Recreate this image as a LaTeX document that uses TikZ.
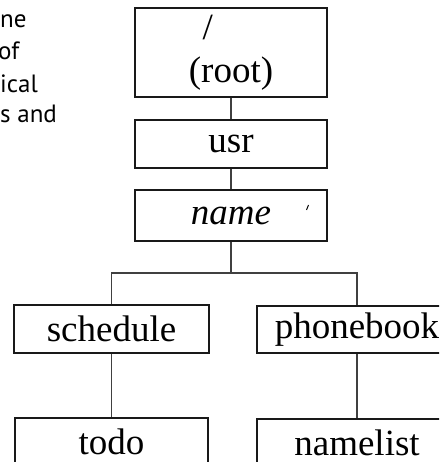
\documentclass[tikz,border=0pt]{standalone}
\usepackage{fontspec}
\setmainfont{Liberation Serif}
\newfontfamily\leftsans{PT Sans}
\begin{document}
\begin{tikzpicture}[x=1pt,y=-1pt,
  dirbox/.style={draw=black!90, line width=1.5pt, rectangle, inner sep=0pt,
    minimum height=48pt, font=\fontsize{37}{43}\selectfont, align=center},
  link/.style={draw=black!75, line width=1.1pt},
  para/.style={anchor=base west, inner sep=0pt, font=\leftsans\fontsize{25}{31}\selectfont, text=black}]
\useasboundingbox (0,0) rectangle (439,462);
\clip (0,0) rectangle (439,462);
% paragraph fragments at the left
\node[para] (p1) at (0,28) {ne};
\node[para] (p2) at (-2,60) {of};
\node[para] (p3) at (0,93) {ical};
\node[para] (p4) at (0,123) {s and};
% directory boxes
\node[dirbox, minimum width=192pt, minimum height=89pt] (root) at (231,52.5)
  {\llap{/\kern18pt}\\(root)};
\node[dirbox, minimum width=192pt] (usr) at (231,144) {usr};
\node[dirbox, minimum width=192pt, minimum height=51pt] (name) at (231,215.5) {\itshape name};
\node[dirbox, minimum width=195pt] (schedule) at (111.5,329) {schedule};
\node[dirbox, minimum width=200pt, minimum height=47pt] (phonebook) at (357,329.5) {phonebook};
\node[dirbox, minimum width=193pt] (todo) at (111.5,442) {todo};
\node[dirbox, minimum width=200pt] (namelist) at (357,443) {namelist};
% small mark in the name box
\draw[line width=1pt] (306.5,210) -- (308.5,205);
% connectors
\coordinate (split) at (231,273);
\draw[link] (root.south) -- (usr.north);
\draw[link] (usr.south) -- (name.north);
\draw[link] (name.south) -- (split);
\draw[link] (schedule.north) |- (split) -| (phonebook.north);
\draw[link] (schedule.south) -- (todo.north);
\draw[link] (phonebook.south) -- (namelist.north);
\end{tikzpicture}
\end{document}
